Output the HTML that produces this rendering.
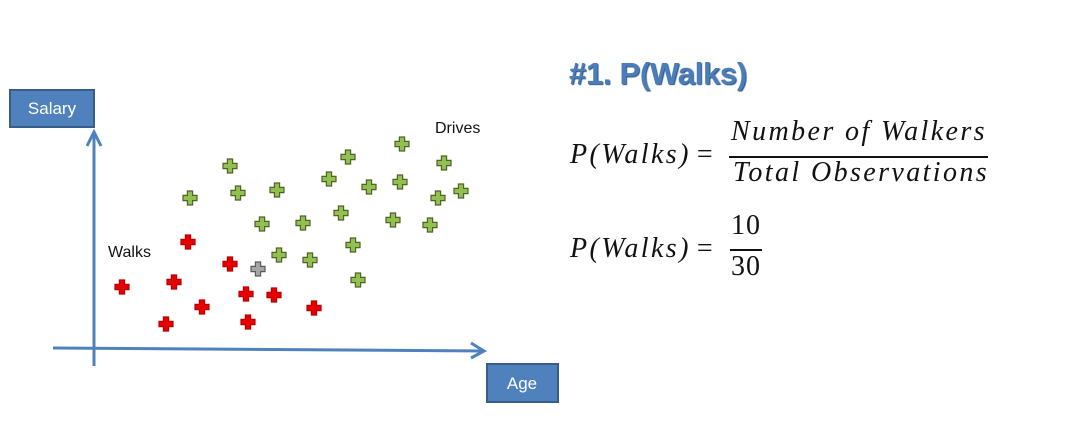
<!DOCTYPE html>
<html><head><meta charset="utf-8">
<style>
body{margin:0;background:#fff;width:1070px;height:448px;overflow:hidden;position:relative;font-family:"Liberation Sans",sans-serif}
.m{position:absolute;font-family:"Liberation Serif",serif;font-style:italic;font-size:28px;color:#111;white-space:nowrap;letter-spacing:2.4px}
.n{font-style:normal;letter-spacing:1px}
</style></head><body>
<svg width="1070" height="448" style="position:absolute;left:0;top:0">
<g id="axes">
<line x1="94" y1="366" x2="94" y2="132" stroke="#4f81bd" stroke-width="3"/>
<polyline points="87,146 94,132 101,146" fill="none" stroke="#4f81bd" stroke-width="3"/>
<line x1="53" y1="348" x2="484" y2="351" stroke="#4f81bd" stroke-width="3"/>
<polyline points="471,343 484,351 471,358" fill="none" stroke="#4f81bd" stroke-width="3"/>
</g>
<g>
<rect x="10" y="90" width="84" height="37" fill="#4f81bd" stroke="#385d8a" stroke-width="2"/>
<text x="52" y="114" text-anchor="middle" fill="#fff" font-size="17" font-family="Liberation Sans,sans-serif">Salary</text>
</g>
<g>
<rect x="487" y="364" width="71" height="38" fill="#4f81bd" stroke="#385d8a" stroke-width="2"/>
<text x="522" y="389" text-anchor="middle" fill="#fff" font-size="17" font-family="Liberation Sans,sans-serif">Age</text>
</g>
<text x="108" y="257" font-size="16" fill="#111">Walks</text>
<text x="435" y="133" font-size="16" fill="#111">Drives</text>
<g id="marks"></g>
</svg>
<div style="position:absolute;left:569px;top:56px;font-family:'Liberation Sans',sans-serif;font-weight:bold;font-size:31px;color:#4a7ebb;text-shadow:1px 1px 1px #2c4f7c;letter-spacing:-0.3px">#1. P(Walks)</div>
<div class="m" style="left:570px;top:139px">P(Walks)<span class="n" style="margin-left:6px">=</span></div>
<div class="m" style="left:731px;top:116px">Number of Walkers</div>
<div style="position:absolute;left:729px;top:156px;width:259px;height:2px;background:#111"></div>
<div class="m" style="left:733px;top:157px">Total Observations</div>
<div class="m" style="left:570px;top:233px">P(Walks)<span class="n" style="margin-left:6px">=</span></div>
<div class="m n" style="left:731px;top:210px">10</div>
<div style="position:absolute;left:730px;top:249px;width:32px;height:2px;background:#111"></div>
<div class="m n" style="left:731px;top:251px">30</div>
<script>
const walksX=[7,18,20,23.5,27,34,38,38.5,45,55];
const walksY=[31,12.5,33.5,53.5,21,42.5,27.5,13.5,27,20.5];
const unknownX=[41];
const unknownY=[40];
const drivesX=[34,24,36,45.75,42,52.25,46.25,54,58.75,63.5,61.75,64.75,66,68.75,77,76.5,74.75,87.5,86,91.75,84];
const drivesY=[91.5,75.5,78,79.5,62.5,63,47,44.5,85,96,68,52,34.5,81,102.5,83.5,64.5,93,75.5,79,62];
function xScale(v){return 94+v*4;}
function yScale(v){return 349-v*2;}
const g=document.getElementById('marks');
const NS='http://www.w3.org/2000/svg';
function plus(cx,cy,fill,stroke,name){
  const s=7,t=2.6;
  const d=`M${cx-t},${cy-s}H${cx+t}V${cy-t}H${cx+s}V${cy+t}H${cx+t}V${cy+s}H${cx-t}V${cy+t}H${cx-s}V${cy-t}H${cx-t}Z`;
  const p=document.createElementNS(NS,'path');
  p.setAttribute('d',d);p.setAttribute('fill',fill);p.setAttribute('stroke',stroke);p.setAttribute('stroke-width','1.2');
  
  
  g.appendChild(p);
}
walksX.forEach((x,i)=>plus(xScale(x),yScale(walksY[i]),'#e60000','#b80000','walks-point'));
unknownX.forEach((x,i)=>plus(xScale(x),yScale(unknownY[i]),'#a6a6a6','#595959','new-point'));
drivesX.forEach((x,i)=>plus(xScale(x),yScale(drivesY[i]),'#92c050','#4f6228','drives-point'));
</script>
</body></html>
